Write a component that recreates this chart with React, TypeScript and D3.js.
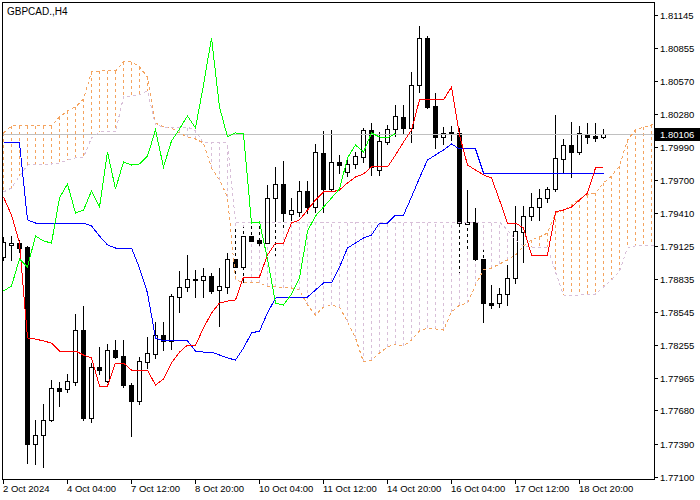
import React from 'react';
import * as d3 from 'd3';

const symbolTitle = 'GBPCAD.,H4';

const opens = [1.79024,1.79130,1.79147,1.79112,1.77388,1.77465,1.77596,1.77877,1.77868,1.77929,
1.78385,1.77614,1.78061,1.77938,1.78210,1.78157,1.77903,1.77763,1.78105,1.78175,
1.78341,1.78289,1.78674,1.78762,1.78832,1.78823,1.78858,1.78735,1.78762,1.79007,
1.78937,1.79208,1.79173,1.79147,1.79541,1.79664,1.79401,1.79419,1.79603,1.79462,
1.79936,1.79620,1.79857,1.79769,1.79839,1.79900,1.80137,1.79787,1.80032,1.80146,
1.80251,1.80155,1.80531,1.80943,1.80347,1.80076,1.80120,1.80111,1.79314,1.79331,
1.79007,1.78621,1.78621,1.78700,1.78840,1.79243,1.79384,1.79462,1.79541,1.79620,
1.79883,1.80006,1.79944,1.80093,1.80085,1.80076];

const highs = [1.79200,1.79208,1.79173,1.79121,1.77596,1.77737,1.77947,1.77929,1.77999,1.78525,
1.78595,1.78096,1.78236,1.78262,1.78297,1.78297,1.77921,1.78148,1.78324,1.78455,
1.78455,1.78700,1.78902,1.79042,1.78911,1.78928,1.78884,1.78928,1.79059,1.79279,
1.79287,1.79331,1.79331,1.79655,1.79813,1.79865,1.79541,1.79690,1.79690,1.80014,
1.80128,1.80137,1.79918,1.79900,1.79944,1.80155,1.80198,1.80120,1.80181,1.80356,
1.80356,1.80645,1.81048,1.80961,1.80461,1.80163,1.80172,1.80155,1.79611,1.79454,
1.79086,1.78779,1.78753,1.78954,1.79471,1.79471,1.79585,1.79620,1.79638,1.80268,
1.80058,1.80207,1.80172,1.80198,1.80198,1.80146];

const lows = [1.78998,1.78998,1.79068,1.77220,1.77211,1.77185,1.77588,1.77719,1.77842,1.77903,
1.77596,1.77579,1.77999,1.77929,1.78140,1.77886,1.77456,1.77737,1.78052,1.78140,
1.78210,1.78218,1.78543,1.78727,1.78674,1.78674,1.78709,1.78420,1.78709,1.78867,
1.78805,1.79147,1.79130,1.79130,1.79042,1.79261,1.79349,1.79384,1.79410,1.79419,
1.79419,1.79611,1.79760,1.79734,1.79804,1.79857,1.79743,1.79743,1.80014,1.80085,
1.80102,1.80032,1.80470,1.80330,1.79979,1.80014,1.80049,1.78893,1.79086,1.78972,
1.78455,1.78578,1.78586,1.78604,1.78797,1.78981,1.79349,1.79349,1.79506,1.79603,
1.79760,1.79725,1.79927,1.80023,1.80041,1.80067];

const closes = [1.79156,1.79147,1.79103,1.77388,1.77465,1.77596,1.77877,1.77850,1.77938,1.78385,
1.77614,1.78061,1.78034,1.78210,1.78148,1.77903,1.77763,1.78113,1.78183,1.78341,
1.78289,1.78683,1.78762,1.78832,1.78823,1.78858,1.78727,1.78770,1.79007,1.78937,
1.79208,1.79165,1.79147,1.79541,1.79664,1.79410,1.79436,1.79603,1.79462,1.79944,
1.79620,1.79857,1.79830,1.79839,1.79909,1.80137,1.79813,1.80041,1.80146,1.80260,
1.80155,1.80531,1.80943,1.80339,1.80076,1.80111,1.80102,1.79322,1.79331,1.79007,
1.78621,1.78604,1.78700,1.78840,1.79252,1.79384,1.79462,1.79541,1.79620,1.79892,
1.80006,1.79944,1.80111,1.80076,1.80067,1.80106];

const tenkan = [1.79550,1.79392,1.79147,1.78315,1.78306,1.78289,1.78271,1.78201,1.78201,1.78201,
1.78166,1.78140,1.77894,1.77894,1.78096,1.78096,1.78034,1.78034,1.78034,1.77903,
1.77956,1.78096,1.78192,1.78253,1.78253,1.78402,1.78534,1.78621,1.78639,1.78648,
1.78849,1.78849,1.78849,1.79042,1.79147,1.79147,1.79322,1.79349,1.79436,1.79524,
1.79594,1.79594,1.79611,1.79673,1.79725,1.79752,1.79813,1.79813,1.79813,1.79918,
1.80032,1.80137,1.80400,1.80400,1.80400,1.80400,1.80514,1.80093,1.79830,1.79787,
1.79743,1.79717,1.79524,1.79322,1.79322,1.79279,1.79042,1.79042,1.79042,1.79419,
1.79436,1.79462,1.79524,1.79585,1.79804,1.79813];

const kijun = [1.80023,1.80023,1.80023,1.79349,1.79322,1.79322,1.79322,1.79322,1.79322,1.79322,
1.79322,1.79296,1.79208,1.79130,1.79103,1.79103,1.79103,1.78928,1.78709,1.78315,
1.78289,1.78289,1.78289,1.78289,1.78201,1.78192,1.78192,1.78166,1.78140,1.78122,
1.78227,1.78359,1.78376,1.78534,1.78665,1.78674,1.78674,1.78674,1.78674,1.78735,
1.78797,1.78797,1.78937,1.79103,1.79147,1.79191,1.79217,1.79322,1.79322,1.79392,
1.79392,1.79550,1.79717,1.79874,1.79918,1.79962,1.80014,1.79971,1.79971,1.79971,
1.79760,1.79760,1.79760,1.79760,1.79760,1.79760,1.79760,1.79760,1.79760,1.79760,
1.79760,1.79760,1.79760,1.79760,1.79760,1.79760];

const senkouA = [1.80111,1.80172,1.80172,1.80172,1.80172,1.80172,1.80172,1.80251,1.80304,1.80339,
1.80409,1.80645,1.80654,1.80654,1.80654,1.80733,1.80733,1.80689,1.80601,1.80198,
1.80163,1.80155,1.80111,1.80076,1.80058,1.80023,1.79804,1.79699,1.79550,1.78823,
1.78805,1.78797,1.78797,1.78770,1.78762,1.78753,1.78753,1.78735,1.78604,1.78516,
1.78586,1.78604,1.78586,1.78455,1.78315,1.78105,1.78122,1.78183,1.78236,1.78262,
1.78245,1.78297,1.78376,1.78402,1.78394,1.78385,1.78543,1.78604,1.78621,1.78779,
1.78911,1.78928,1.78963,1.78998,1.79042,1.79121,1.79173,1.79200,1.79235,1.79410,
1.79436,1.79480,1.79533,1.79568,1.79585,1.79673,1.79734,1.79822,1.80049,1.80137,
1.80163,1.80181,1.80190];

const senkouB = [1.79594,1.79629,1.79734,1.79830,1.79839,1.79839,1.79839,1.79848,1.79874,1.79892,
1.79900,1.80067,1.80120,1.80120,1.80120,1.80426,1.80435,1.80444,1.80479,1.80181,
1.80163,1.80163,1.80163,1.80163,1.80128,1.80023,1.80023,1.80023,1.80023,1.79331,
1.79331,1.79331,1.79331,1.79331,1.79331,1.79331,1.79331,1.79331,1.79331,1.79331,
1.79331,1.79331,1.79331,1.79331,1.79331,1.79331,1.79331,1.79331,1.79331,1.79331,
1.79331,1.79331,1.79331,1.79331,1.79331,1.79331,1.79331,1.79331,1.79331,1.79331,
1.79331,1.79331,1.79331,1.79261,1.79173,1.79121,1.79112,1.79112,1.79112,1.78893,
1.78692,1.78683,1.78692,1.78700,1.78700,1.78762,1.78823,1.78902,1.79103,1.79121,
1.79121,1.79121,1.79121];

const chikouShift = 26;

const priceTicks = [1.81145,1.80855,1.80570,1.80280,1.79990,1.79700,1.79410,1.79125,1.78835,1.78545,1.78255,1.77965,1.77680,1.77390,1.77100];
const priceTickLabels = ['1.81145','1.80855','1.80570','1.80280','1.79990','1.79700','1.79410','1.79125','1.78835','1.78545','1.78255','1.77965','1.77680','1.77390','1.77100'];

const timeTickIndex = [0, 8, 16, 24, 32, 40, 48, 56, 64, 72];
const timeTickLabels = ['2 Oct 2024','4 Oct 04:00','7 Oct 12:00','8 Oct 20:00','10 Oct 04:00','11 Oct 12:00','14 Oct 20:00','16 Oct 04:00','17 Oct 12:00','18 Oct 20:00'];

const bidPrice = 1.80106;
const bidLabel = '1.80106';

const FONT = '"Liberation Sans", Arial, sans-serif';

export default function App() {
  const W = 700, H = 500;
  const L = 2, R = 654, T = 2, B = 479;

  const xS = d3.scaleLinear().domain([0, 81]).range([3, 651]);
  const yS = d3.scaleLinear().domain([1.77080, 1.81258]).range([479, 2]);
  const X = (i: number) => Math.round(xS(i)) + 0.5;
  const Yr = (v: number) => Math.round(yS(v));

  const lineGen = d3.line<number>().x((_, i) => X(i)).y((d) => yS(d));
  const chikou = closes.slice(chikouShift);

  const SANDY = '#F4A460';
  const THISTLE = '#D8BFD8';

  const hatch = senkouA.map((a, i) => ({
    x: X(i),
    y1: Yr(a),
    y2: Yr(senkouB[i]),
    color: a > senkouB[i] ? SANDY : THISTLE,
  }));

  const candles = opens.map((o, i) => {
    const c = closes[i];
    const top = Yr(Math.max(o, c));
    const bot = Yr(Math.min(o, c));
    return {
      x: X(i),
      hi: Yr(highs[i]),
      lo: Yr(lows[i]),
      top,
      bot,
      bull: c > o,
    };
  });

  const bidY = Yr(bidPrice) + 0.5;

  return (
    <svg
      width={W}
      height={H}
      style={{ position: 'absolute', left: 0, top: 0, background: '#fff' }}
      shapeRendering="crispEdges"
    >
      <defs>
        <clipPath id="plot">
          <rect x={L + 1} y={T + 1} width={R - L - 1} height={B - T - 1} />
        </clipPath>
      </defs>
      <rect x={0} y={0} width={W} height={H} fill="#fff" />
      <g clipPath="url(#plot)">
        {/* cloud hatch (coloured dashes) */}
        {hatch.map((h, i) => (
          <line key={'hc' + i} x1={h.x} x2={h.x} y1={h.y1} y2={h.y2} stroke={h.color} strokeWidth={1} strokeDasharray="3,3" />
        ))}
        {/* wicks */}
        {candles.map((c, i) => (
          <line key={'w' + i} x1={c.x} x2={c.x} y1={c.hi} y2={c.lo + 1} stroke="#000" strokeWidth={1} />
        ))}
        {/* cloud hatch gaps (background colour) */}
        {hatch.map((h, i) => (
          <line key={'hg' + i} x1={h.x} x2={h.x} y1={h.y1} y2={h.y2} stroke="#fff" strokeWidth={1} strokeDasharray="3,3" strokeDashoffset={3} />
        ))}
        {/* bodies */}
        {candles.map((c, i) => (
          <rect
            key={'b' + i}
            x={c.x - 2}
            y={c.top + 0.5}
            width={4}
            height={Math.max(c.bot - c.top, 0.5)}
            fill={c.bull ? '#fff' : '#000'}
            stroke="#000"
            strokeWidth={1}
          />
        ))}
        {/* bid line */}
        <line x1={L} x2={R} y1={bidY} y2={bidY} stroke="#C0C0C0" strokeWidth={1} />
        {/* senkou span lines */}
        <path d={lineGen(senkouA) || ''} fill="none" stroke={SANDY} strokeWidth={1} strokeDasharray="3,3" />
        <path d={lineGen(senkouB) || ''} fill="none" stroke={THISTLE} strokeWidth={1} strokeDasharray="3,3" />
        {/* kijun, tenkan, chikou */}
        <path d={lineGen(kijun) || ''} fill="none" stroke="#0000FF" strokeWidth={1} />
        <path d={lineGen(tenkan) || ''} fill="none" stroke="#FF0000" strokeWidth={1} />
        <path d={lineGen(chikou) || ''} fill="none" stroke="#00FF00" strokeWidth={1} />
      </g>

      {/* frame */}
      <rect x={L + 0.5} y={T + 0.5} width={R - L} height={B - T} fill="none" stroke="#000" strokeWidth={1} />

      {/* title */}
      <text x={7} y={15} fontFamily={FONT} fontSize={10} fill="#000">{symbolTitle}</text>

      {/* price axis */}
      {priceTicks.map((v, i) => (
        <g key={'pt' + i}>
          <line x1={R} x2={R + 4} y1={Yr(v) + 0.5} y2={Yr(v) + 0.5} stroke="#000" />
          <text x={660} y={Yr(v) + 4} fontFamily={FONT} fontSize={9.5} fill="#000">{priceTickLabels[i]}</text>
        </g>
      ))}
      <rect x={655} y={Yr(bidPrice) - 6} width={45} height={13} fill="#000" />
      <text x={660} y={Yr(bidPrice) + 4} fontFamily={FONT} fontSize={9.5} fill="#fff">{bidLabel}</text>

      {/* time axis */}
      {timeTickIndex.map((idx, i) => (
        <g key={'tt' + i}>
          <line x1={X(idx)} x2={X(idx)} y1={B} y2={B + 5} stroke="#000" />
          <text x={X(idx) - 0.5} y={492} fontFamily={FONT} fontSize={9.5} fill="#000">{timeTickLabels[i]}</text>
        </g>
      ))}
    </svg>
  );
}
